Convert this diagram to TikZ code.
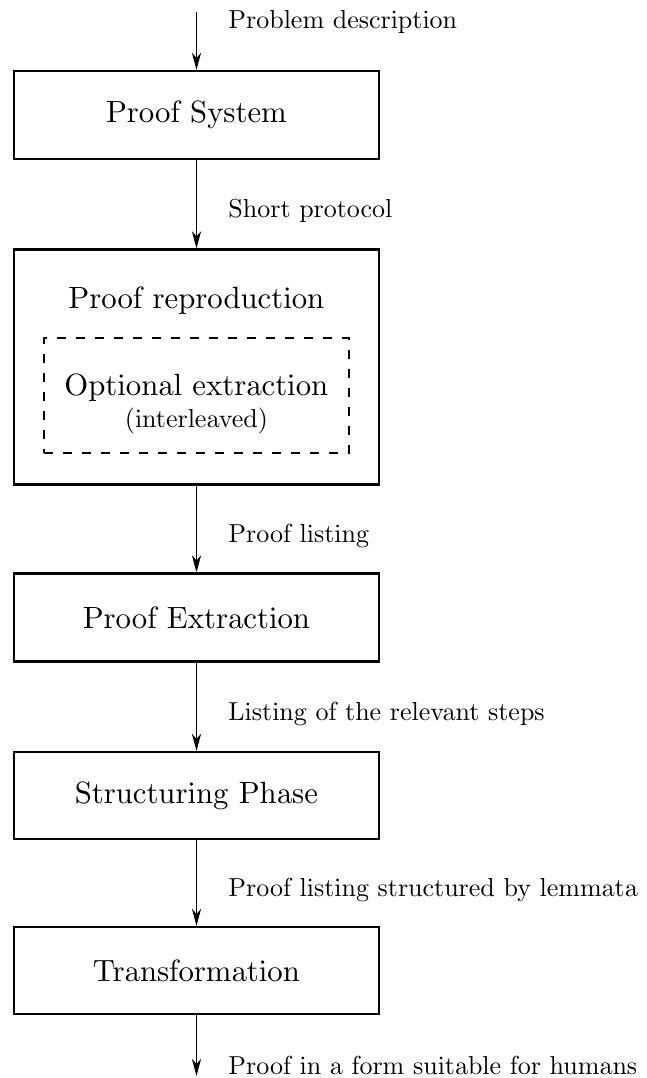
\documentclass[tikz,border=0pt]{standalone}
\usepackage{tikz}
\usetikzlibrary{arrows.meta,positioning}
\font\boxcm=cmr10 at 17.5pt
\font\lblcm=cmr10 at 14.8pt
\tikzset{
  stage/.style={draw, rectangle, line width=1.2pt, minimum width=7.3cm, minimum height=1.76cm, font=\boxcm},
  lbl/.style={font=\lblcm, anchor=west, inner sep=0pt, xshift=0.62cm, yshift=-0.14cm},
  flow/.style={-{Stealth[length=0.34cm,width=0.18cm,inset=0.1cm]}, line width=1.1pt}
}
\begin{document}
\begin{tikzpicture}[node distance=5.04cm]
                                \useasboundingbox (-3.93,2.3) rectangle (8.99,-19.26);
                                \coordinate (in) at (0,2.06);
                                \node[stage] (sys) {Proof System};
                                \node[stage, minimum height=4.7cm] (repro) [below of=sys] {};
                                \node[font=\boxcm, yshift=-1.04cm] (reprotitle) at (repro.north) {Proof reproduction};
                                \node[draw, dash pattern=on 0.18cm off 0.2cm, line width=0.9pt, minimum width=6.1cm, minimum height=2.3cm] (opt) [below of=repro, node distance=0.57cm] {};
                                \node[font={\boxcm\baselineskip=18pt}, align=center] (optx) [below of=opt, node distance=0.17cm] {Optional extraction\\{\lblcm (interleaved)}};
                                \node[stage] (extr) [below of=repro, node distance=5.01cm] {Proof Extraction};
                                \node[stage, minimum height=1.74cm] (struct) [below of=extr, node distance=3.56cm] {Structuring Phase};
                                \node[stage, minimum height=1.74cm] (trans) [below of=struct, node distance=3.5cm] {Transformation};
                                \coordinate (out) at (0,-19.22);

                                \draw[flow] (in) -- node[lbl, pos=0.05] (l1) {Problem description} (sys);
                                \draw[flow] (sys) -- node[lbl] (l2) {Short protocol} (repro);
                                \draw[flow] (repro) -- node[lbl] (l3) {Proof listing} (extr);
                                \draw[flow] (extr) -- node[lbl] (l4) {Listing of the relevant steps} (struct);
                                \draw[flow] (struct) -- node[lbl] (l5) {Proof listing structured by lemmata} (trans);
                                \draw[flow] (trans) -- node[lbl, pos=0.71] (l6) {Proof in a form suitable for humans} (out);
                            \end{tikzpicture}
\end{document}
